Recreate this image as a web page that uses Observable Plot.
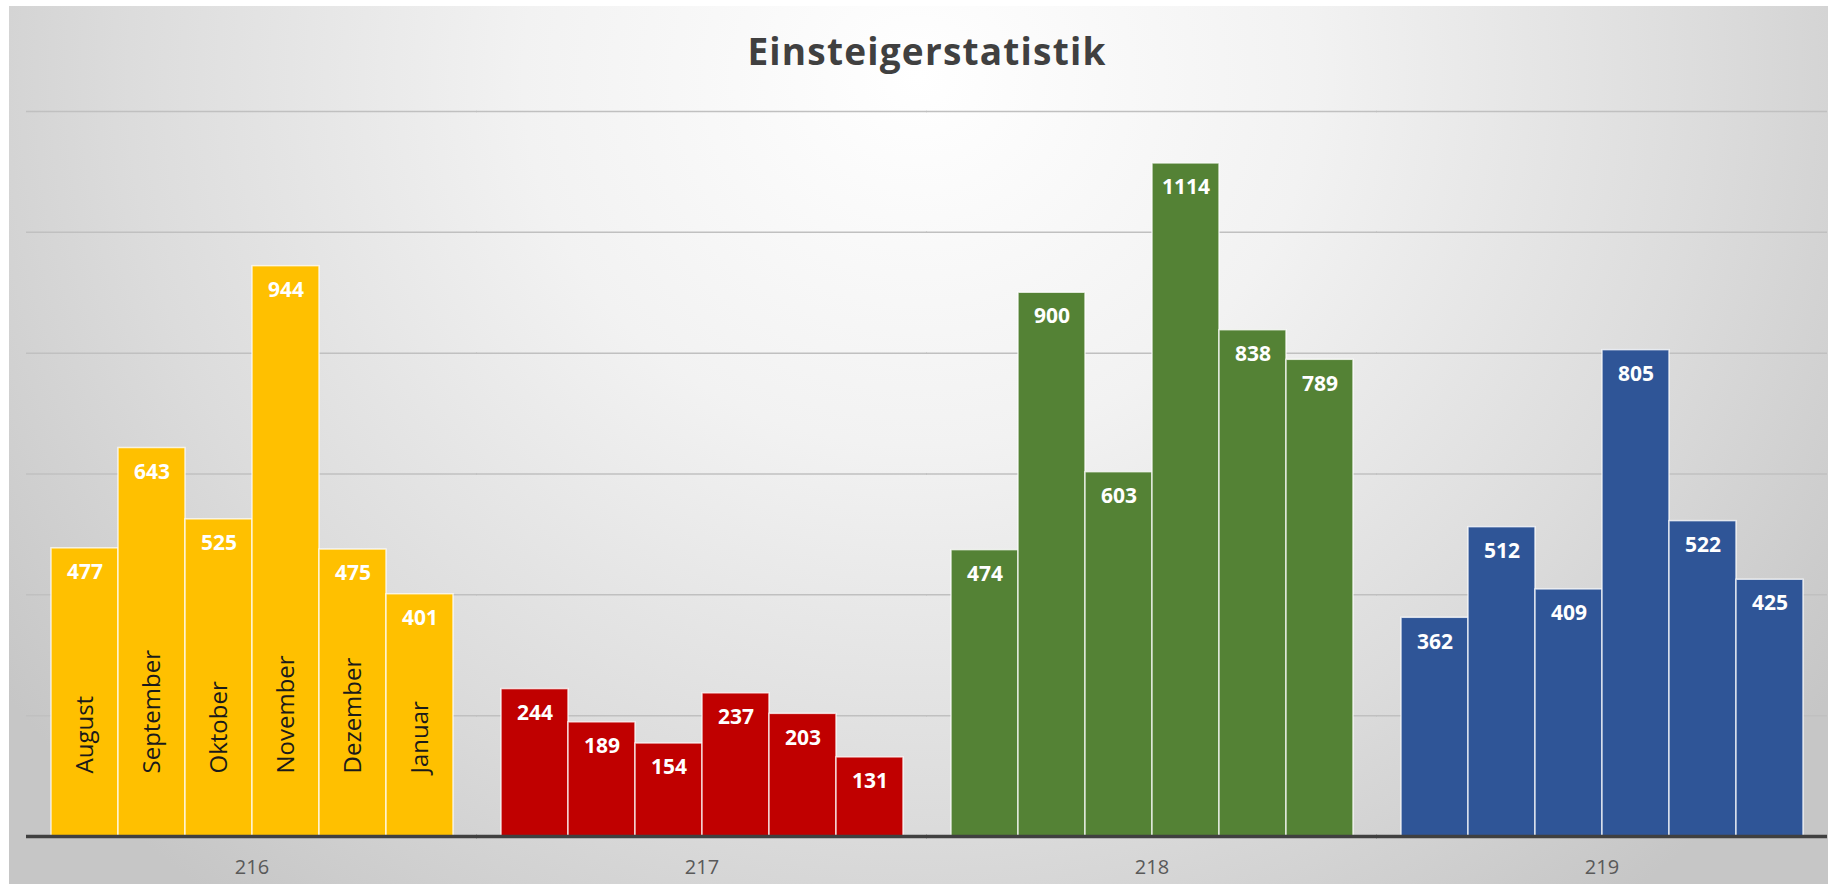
<!DOCTYPE html>
<html>
<head>
<meta charset="utf-8">
<script src="https://cdn.jsdelivr.net/npm/d3@7"></script>
<script src="https://cdn.jsdelivr.net/npm/@observablehq/plot@0.6"></script>
<style>
  html, body { margin: 0; padding: 0; background: #ffffff; }
  #wrap { position: relative; width: 1828px; height: 884px; overflow: hidden; }
  #bg { position: absolute; left: 9px; top: 6px; right: 0; bottom: 0;
        background: radial-gradient(ellipse 62% 120% at 50% 8%, #ffffff 0%, #f2f2f2 35%, #dcdcdc 70%, #c6c6c6 100%); }
  #title { position: absolute; left: 13px; top: 31px; width: 1828px; text-align: center;
           font-family: "Open Sans", sans-serif; font-weight: 700; font-size: 37px; color: #404040; letter-spacing: 1.2px; line-height: 1.1; }
  #chart { position: absolute; left: 0; top: 90px; }
</style>
</head>
<body>
<div id="wrap">
  <div id="bg"></div>
  <div id="title">Einsteigerstatistik</div>
  <div id="chart"></div>
</div>
<script>
const groups = ["216", "217", "218", "219"];
const months = ["August", "September", "Oktober", "November", "Dezember", "Januar"];
const values216 = [477, 643, 525, 944, 475, 401];
const values217 = [244, 189, 154, 237, 203, 131];
const values218 = [474, 900, 603, 1114, 838, 789];
const values219 = [362, 512, 409, 805, 522, 425];
const groupColors = ["#FFC000", "#C00000", "#548235", "#2F5597"];
const gridValues = [200, 400, 600, 800, 1000, 1200];

const seriesValues = [values216, values217, values218, values219];
const data = groups.flatMap((g, i) => seriesValues[i].map((v, j) => ({group: g, month: months[j], value: v})));
const labelGroup = groups[0];

const plot = Plot.plot({
  width: 1828,
  height: 794,
  marginTop: 21,
  marginBottom: 48,
  marginLeft: 25,
  marginRight: 1,
  style: {background: "transparent", fontFamily: "Open Sans, sans-serif", overflow: "visible"},
  fx: {domain: groups, paddingInner: 0.1, paddingOuter: 0.05, label: null},
  x: {domain: months, padding: 0, axis: null},
  y: {domain: [0, 1200], axis: null},
  color: {domain: groups, range: groupColors},
  marks: [
    Plot.ruleY(gridValues, {stroke: "#c0c0c0", strokeWidth: 1.5, insetLeft: -23, insetRight: -23}),
    Plot.barY(data, {fx: "group", x: "month", y: "value", fill: "group", stroke: "#ffffff", strokeOpacity: 0.75, strokeWidth: 1.5}),
    Plot.text(data, {fx: "group", x: "month", y: "value", text: d => String(d.value), dy: 24,
      fill: "white", fontWeight: "bold", fontSize: 21}),
    Plot.text(data.filter(d => d.group === labelGroup), {fx: "group", x: "month", y: d => 0, text: "month",
      rotate: -90, textAnchor: "start", dy: -63, fontSize: 24, fill: "#1a1a1a"}),
    Plot.ruleY([0], {stroke: "#404040", strokeWidth: 3.5, insetLeft: -23, insetRight: -23}),
    Plot.axisFx({anchor: "bottom", tickSize: 0, tickPadding: 23, fontSize: 20, fill: "#595959", label: null})
  ]
});
document.getElementById("chart").appendChild(plot);
</script>
</body>
</html>
